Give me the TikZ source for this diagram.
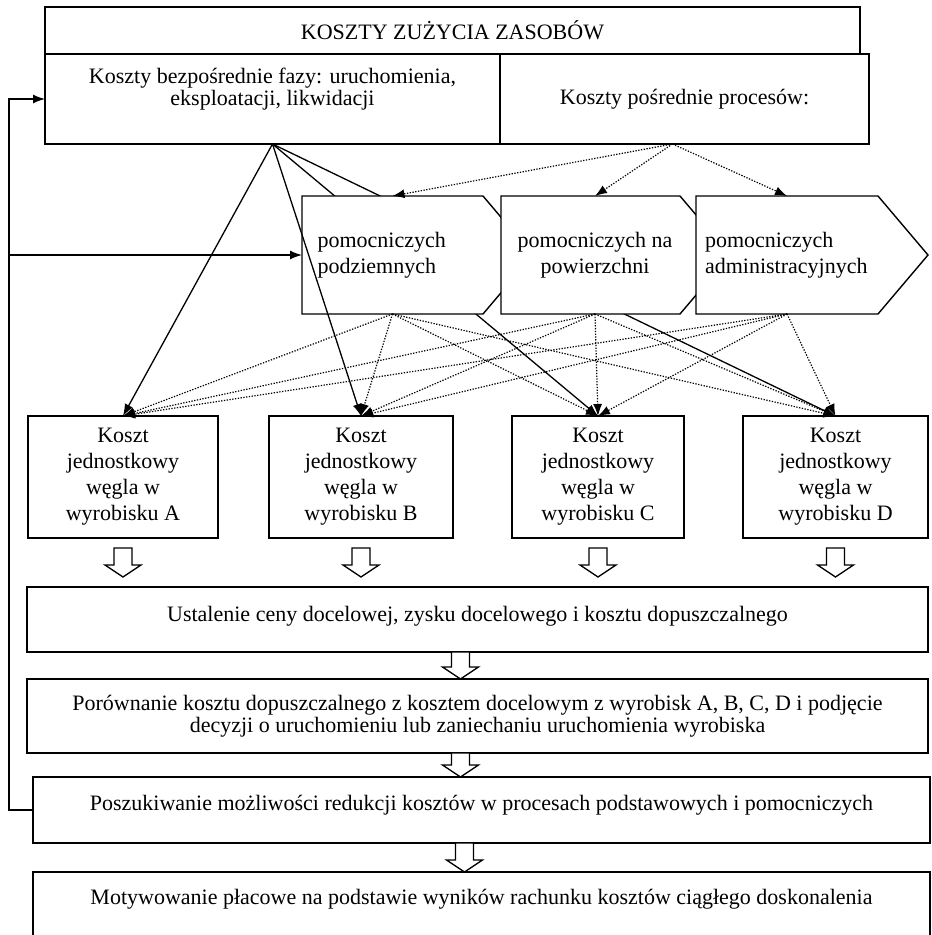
\documentclass[tikz,border=0pt]{standalone}
\usepackage{fontspec}
\setmainfont{Liberation Serif}
\usetikzlibrary{arrows.meta, positioning, calc, backgrounds}

\tikzset{
	box/.style={draw, line width=1.4pt, outer sep=0pt, inner sep=4pt, align=center},
	chevron/.style={draw, fill=white, line width=1.4pt},
	chevtext/.style={outer sep=0pt, inner sep=0pt, minimum height=118pt, font=\fontsize{22}{26}\selectfont},
	kbox/.style={box, minimum height=122pt, font=\fontsize{22}{26}\selectfont},
	solidarr/.style={line width=1.3pt, -{Latex[length=12pt,width=9pt]}},
	dotarr/.style={line width=1.2pt, dash pattern=on 1.3pt off 1.5pt, -{Latex[length=12pt,width=9pt]}},
	pics/hollowdown/.style={code={
			\draw[line width=1.3pt, fill=white] (-9,0) -- (-9,{#1-12}) -- (-18,{#1-12}) -- (0,#1) -- (18,{#1-12}) -- (9,{#1-12}) -- (9,0) -- cycle;
	}}
}

\begin{document}
\begin{tikzpicture}[x=1pt, y=-1pt, font=\fontsize{22}{22.5}\selectfont]
	\useasboundingbox (0,0) rectangle (932,935);
	\clip (0,0) rectangle (932,935);
	
	% naglowek i dwa rodzaje kosztow
	\node[box, anchor=north west, minimum width=815pt, minimum height=47pt] (zasoby) at (45,7) {KOSZTY ZUŻYCIA ZASOBÓW};
	\node[box, anchor=north west, minimum width=455pt, minimum height=90pt, text depth=24pt] (bezp) at (45,54) {Koszty bezpośrednie fazy: uruchomienia,\\eksploatacji, likwidacji};
	\node[box, anchor=north west, minimum width=369pt, minimum height=90pt] (posr) at (500,54) {Koszty pośrednie procesów:};
	
	% procesy pomocnicze
	\filldraw[chevron] (302,196) -- (483,196) -- (533,255) -- (483,314) -- (302,314) -- cycle;
	\node[chevtext, minimum width=181pt, text width=150pt, align=left] (podz) at (392.5,255) {pomocniczych\\podziemnych};
	\filldraw[chevron] (501,196) -- (680,196) -- (730,255) -- (680,314) -- (501,314) -- cycle;
	\node[chevtext, minimum width=179pt, align=center] (powi) at (595,255) {pomocniczych na\\powierzchni};
	\filldraw[chevron] (696,196) -- (878,196) -- (928,255) -- (878,314) -- (696,314) -- cycle;
	\node[chevtext, minimum width=182pt, text width=164pt, align=left] (admi) at (787,255) {pomocniczych\\administracyjnych};
	
	% koszty jednostkowe
	\node[kbox, minimum width=190pt] (wa) at (123,477) {Koszt\\jednostkowy\\węgla w\\wyrobisku A};
	\node[kbox, minimum width=184pt] (wb) at (361,477) {Koszt\\jednostkowy\\węgla w\\wyrobisku B};
	\node[kbox, minimum width=172pt] (wc) at (598,477) {Koszt\\jednostkowy\\węgla w\\wyrobisku C};
	\node[kbox, minimum width=185pt] (wd) at (835.5,477) {Koszt\\jednostkowy\\węgla w\\wyrobisku D};
	
	% kolejne kroki
	\node[box, anchor=north west, minimum width=901pt, minimum height=65pt, text depth=12pt] (ust) at (27,587) {Ustalenie ceny docelowej, zysku docelowego i kosztu dopuszczalnego};
	\node[box, anchor=north west, minimum width=901pt, minimum height=74pt] (por) at (27,679) {Porównanie kosztu dopuszczalnego z kosztem docelowym z wyrobisk A, B, C, D i podjęcie\\decyzji o uruchomieniu lub zaniechaniu uruchomienia wyrobiska};
	\node[box, anchor=north west, minimum width=897pt, minimum height=66pt, text depth=15pt] (posz) at (33,777) {Poszukiwanie możliwości redukcji kosztów w procesach podstawowych i pomocniczych};
	\node[box, anchor=north west, minimum width=897pt, minimum height=100pt, text depth=50pt] (mot) at (33,872) {Motywowanie płacowe na podstawie wyników rachunku kosztów ciągłego doskonalenia};
	
	% strzalki
	\coordinate (bsrc) at (bezp.south);
	\coordinate (psrc) at ([xshift=-12pt]posr.south);
	\foreach \k in {wa,wb}
	\draw[solidarr] (bsrc) -- (\k.north);
	\begin{scope}[on background layer]
		\foreach \k in {wc,wd}
		\draw[solidarr] (bsrc) -- (\k.north);
	\end{scope}
	\foreach \s in {podz,powi,admi}
	\draw[dotarr] (psrc) -- (\s.north);
	\foreach \s in {podz,powi,admi}{
		\foreach \k in {wa,wb,wc,wd}
		\draw[dotarr] (\s.south) -- (\k.north);
	}
	
	% sprzezenie zwrotne
	\coordinate (fb) at ([xshift=-24pt]posz.west);
	\draw[solidarr] (posz.west) -- (fb) |- (bezp.west);
	\draw[solidarr] (fb |- podz.west) -- (podz.west);
	
	% strzalki blokowe
	\foreach \k in {wa,wb,wc,wd}
	\pic at ([yshift=-10pt]\k.south) {hollowdown=29};
	\pic at ([xshift=-17pt]ust.south) {hollowdown=27};
	\pic at ([xshift=-17pt]por.south) {hollowdown=24};
	\pic at ([xshift=-17pt]posz.south) {hollowdown=29};
\end{tikzpicture}
\end{document}
